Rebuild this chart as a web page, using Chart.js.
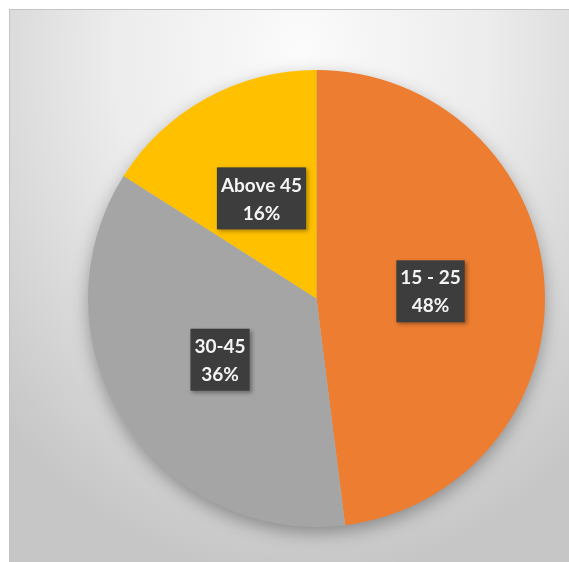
<!DOCTYPE html>
<html>
<head>
<meta charset="utf-8">
<script src="https://cdn.jsdelivr.net/npm/chart.js@4"></script>
<style>
  html, body { margin: 0; padding: 0; background: #fff; }
  #wrap {
    position: absolute; left: 9px; top: 9px; width: 560px; height: 553px;
    border-top: 1px solid #c4c4c4; border-left: 1px solid #c4c4c4;
    box-sizing: border-box;
    background: radial-gradient(ellipse 75% 95% at 52% 8%, #fbfbfb 0%, #ececec 45%, #d4d4d4 80%, #c6c6c6 100%);
  }
</style>
</head>
<body>
<div id="wrap"><canvas id="pie"></canvas></div>
<script>
const categories = ["15 - 25", "30-45", "Above 45"];
const shares = [48, 36, 16];
const sliceColors = ["#ED7D31", "#A5A5A5", "#FFC000"];

// soft shadow under the whole pie
const pieShadow = {
  id: "pieShadow",
  beforeDatasetsDraw(chart) {
    const arc = chart.getDatasetMeta(0).data[0];
    if (!arc) return;
    const ctx = chart.ctx;
    ctx.save();
    ctx.shadowColor = "rgba(0,0,0,0.35)";
    ctx.shadowBlur = 18;
    ctx.shadowOffsetY = 6;
    ctx.fillStyle = "#bbb";
    ctx.beginPath();
    ctx.arc(arc.x, arc.y, arc.outerRadius - 1, 0, Math.PI * 2);
    ctx.fill();
    ctx.restore();
  }
};

// dark label boxes at each slice centre
const boxLabels = {
  id: "boxLabels",
  afterDatasetsDraw(chart) {
    const ctx = chart.ctx;
    const meta = chart.getDatasetMeta(0);
    meta.data.forEach((arc, i) => {
      const mid = (arc.startAngle + arc.endAngle) / 2;
      const r = arc.outerRadius * 0.5;
      const x = arc.x + Math.cos(mid) * r;
      const y = arc.y + Math.sin(mid) * r;
      const lines = [categories[i], shares[i] + "%"];
      ctx.save();
      ctx.font = "bold 19px Lato, 'Open Sans', sans-serif";
      const w = Math.max(...lines.map(t => ctx.measureText(t).width)) + 8;
      const h = 62;
      ctx.shadowColor = "rgba(0,0,0,0.35)";
      ctx.shadowBlur = 4;
      ctx.shadowOffsetX = 2;
      ctx.shadowOffsetY = 2;
      ctx.fillStyle = "#3d3d3d";
      ctx.fillRect(x - w / 2, y - h / 2, w, h);
      ctx.shadowColor = "transparent";
      ctx.fillStyle = "#f4f4f4";
      ctx.textAlign = "center";
      ctx.textBaseline = "middle";
      ctx.fillText(lines[0], x, y - 13);
      ctx.fillText(lines[1], x, y + 15);
      ctx.restore();
    });
  }
};

new Chart(document.getElementById("pie"), {
  type: "pie",
  data: {
    labels: categories,
    datasets: [{
      data: shares,
      backgroundColor: sliceColors,
      borderWidth: 0
    }]
  },
  options: {
    responsive: true,
    maintainAspectRatio: false,
    animation: false,
    layout: { padding: { left: 78, right: 24, top: 60, bottom: 35 } },
    plugins: {
      legend: { display: false },
      tooltip: { enabled: false }
    }
  },
  plugins: [pieShadow, boxLabels]
});
</script>
</body>
</html>
